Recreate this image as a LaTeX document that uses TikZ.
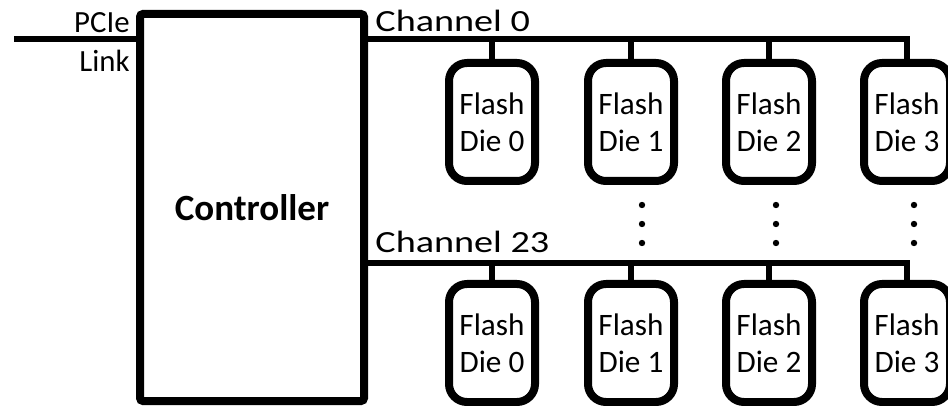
\documentclass[tikz,border=0pt]{standalone}
\usepackage{fontspec}
\setmainfont{Carlito}
\usetikzlibrary{calc}
\definecolor{WireClr}{rgb}{0,0,0}
\definecolor{ShapeClr}{rgb}{0,0,0}
\tikzset{
  ctrlbox/.style={draw=ShapeClr,line width=4pt,rounded corners=1.5pt,minimum width=112pt,minimum height=193.5pt,inner sep=0pt,font=\fontsize{18.5}{22}\selectfont\bfseries},
  diebox/.style={draw=ShapeClr,line width=4pt,rounded corners=9pt,minimum width=43pt,minimum height=59pt,inner sep=0pt,align=center,font=\fontsize{15.6}{18.5}\selectfont},
  bus/.style={line width=3pt,color=WireClr},
  lbl/.style={inner sep=0pt,font=\fontsize{15.4}{18}\selectfont},
}
\newcommand{\chanlabel}[1]{\scalebox{1.24}[1]{#1}}
\begin{document}
\begin{tikzpicture}[x=0.5pt,y=-0.5pt]
\useasboundingbox (0,0) rectangle (948,406);

\node[ctrlbox] (ctrl) at (252,207.5) {Controller};

% channel 0
\node[diebox] (d00) at (492,122) {Flash\\Die 0};
\node[diebox] (d01) at (631,122) {Flash\\Die 1};
\node[diebox] (d02) at (769,122) {Flash\\Die 2};
\node[diebox] (d03) at (907,122) {Flash\\Die 3};

% channel 23
\node[diebox] (d230) at (492,343) {Flash\\Die 0};
\node[diebox] (d231) at (631,343) {Flash\\Die 1};
\node[diebox] (d232) at (769,343) {Flash\\Die 2};
\node[diebox] (d233) at (907,343) {Flash\\Die 3};

\coordinate (pcie) at (14,39.5);
\coordinate (ch0) at (ctrl.east |- 0,39.5);
\coordinate (ch23) at (ctrl.east |- 0,263);

\draw[bus] (pcie) -- (ctrl.west |- pcie);
\draw[bus] (ch0) -- (d03.north |- ch0) -- (d03.north);
\draw[bus] (d00.north) -- (d00.north |- ch0);
\draw[bus] (d01.north) -- (d01.north |- ch0);
\draw[bus] (d02.north) -- (d02.north |- ch0);

\draw[bus] (ch23) -- (d233.north |- ch23) -- (d233.north);
\draw[bus] (d230.north) -- (d230.north |- ch23);
\draw[bus] (d231.north) -- (d231.north |- ch23);
\draw[bus] (d232.north) -- (d232.north |- ch23);

% dots between the channels
\fill (642,205) circle (1.6pt) (642,224) circle (1.6pt) (642,243) circle (1.6pt);
\fill (776,205) circle (1.6pt) (776,224) circle (1.6pt) (776,243) circle (1.6pt);
\fill (914,205) circle (1.6pt) (914,224) circle (1.6pt) (914,243) circle (1.6pt);

\node[lbl,anchor=base east] (pcielbl) at (130,33) {PCIe};
\node[lbl,anchor=base east] (linklbl) at (130,72) {Link};
\node[lbl,anchor=base west] (ch0lbl) at (375,32) {\chanlabel{Channel 0}};
\node[lbl,anchor=base west] (ch23lbl) at (375,253) {\chanlabel{Channel 23}};

\end{tikzpicture}
\end{document}
